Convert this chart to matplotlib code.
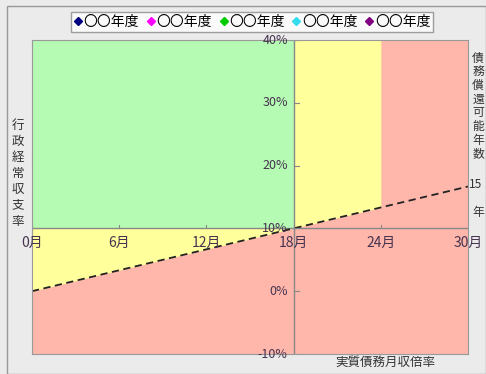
import numpy as np
import matplotlib.pyplot as plt
from matplotlib.patches import Rectangle

plt.rcParams['font.family'] = ['Noto Sans CJK JP', 'DejaVu Sans']

# data
month_ticks = [0, 6, 12, 18, 24, 30]
month_labels = ['0月', '6月', '12月', '18月', '24月', '30月']
pct_ticks = [-10, 0, 10, 20, 30, 40]
pct_labels = ['-10%', '0%', '10%', '20%', '30%', '40%']
legend_labels = ['〇〇年度', '〇〇年度', '〇〇年度', '〇〇年度', '〇〇年度']
legend_colors = ['#000080', '#ff00ff', '#00cc00', '#33ddee', '#800080']
line_x = [0, 30]
line_y = [0, 16.67]   # 債務償還可能年数 15年
x_cross = 18
y_cross = 10
yellow_limit = 24

GREEN = '#b6fbb4'
YELLOW = '#ffff9c'
PINK = '#ffb7ab'
TXT = '#45334f'

fig = plt.figure(figsize=(4.86, 3.74), dpi=100, facecolor='#ebebeb')
fig.patches.append(Rectangle((0.014, 0.0), 0.985, 0.985, transform=fig.transFigure,
                             fill=False, edgecolor='#999999', lw=1))
ax = fig.add_axes([32 / 486, 1 - 354 / 374, 436 / 486, 314 / 374])
ax.set_xlim(0, 30)
ax.set_ylim(-10, 40)
ax.set_facecolor(PINK)

xs = np.linspace(0, 30, 301)
ly = np.interp(xs, line_x, line_y)
# green: upper left
ax.fill_between([0, x_cross], y_cross, 40, color=GREEN, lw=0)
# yellow: between line and 10% on the left, above line up to 24月
m = xs <= x_cross
ax.fill_between(xs[m], ly[m], y_cross, color=YELLOW, lw=0)
m = (xs >= x_cross) & (xs <= yellow_limit)
ax.fill_between(xs[m], ly[m], 40, color=YELLOW, lw=0)

ax.axhline(y_cross, color='#888888', lw=1)
ax.axvline(x_cross, color='#888888', lw=1)
ax.plot(line_x, line_y, color='#222222', lw=1.3, ls=(0, (4, 2.5)))

for s in ax.spines.values():
    s.set_color('#999999')
ax.set_xticks([])
ax.set_yticks([])

# axis tick marks and labels drawn at the crossing axes
for xv, lab in zip(month_ticks, month_labels):
    ax.plot([xv, xv], [y_cross, y_cross + 0.6], color='#888888', lw=0.8)
    ax.text(xv, y_cross - 1.2, lab, ha='center', va='top', fontsize=10,
            color=TXT)
for yv, lab in zip(pct_ticks, pct_labels):
    ax.plot([x_cross, x_cross + 0.35], [yv, yv], color='#888888', lw=0.8)
    ax.text(x_cross - 0.4, yv, lab, ha='right', va='center', fontsize=9,
            color=TXT)

# side titles, one character per row
for i, ch in enumerate('行政経常収支率'):
    fig.text(18 / 486, 1 - (125 + 16 * i) / 374, ch, ha='center', va='center',
             fontsize=9, color='#333333')
for i, ch in enumerate('債務償還可能年数'):
    fig.text(478 / 486, 1 - (58 + 13.7 * i) / 374, ch, ha='center', va='center',
             fontsize=8.5, color='#333333')
fig.text(476 / 486, 1 - 185 / 374, '15', ha='center', va='center', fontsize=8.5, color='#333333')
fig.text(478 / 486, 1 - 213 / 374, '年', ha='center', va='center', fontsize=8.5, color='#333333')
fig.text(385 / 486, 1 - 362 / 374, '実質債務月収倍率', ha='center', va='center',
         fontsize=9, color='#333333')

handles = [plt.Line2D([], [], marker='D', ls='none', color=c, markersize=4)
           for c in legend_colors]
fig.legend(handles, legend_labels, loc='center', bbox_to_anchor=(252 / 486, 1 - 22 / 374),
           ncol=5, frameon=True, fancybox=False, edgecolor='#888888', fontsize=10,
           handlelength=0.6, handletextpad=0.1, columnspacing=0.55, borderpad=0.2,
           borderaxespad=0)

fig.savefig('out.png', dpi=100, facecolor=fig.get_facecolor())
